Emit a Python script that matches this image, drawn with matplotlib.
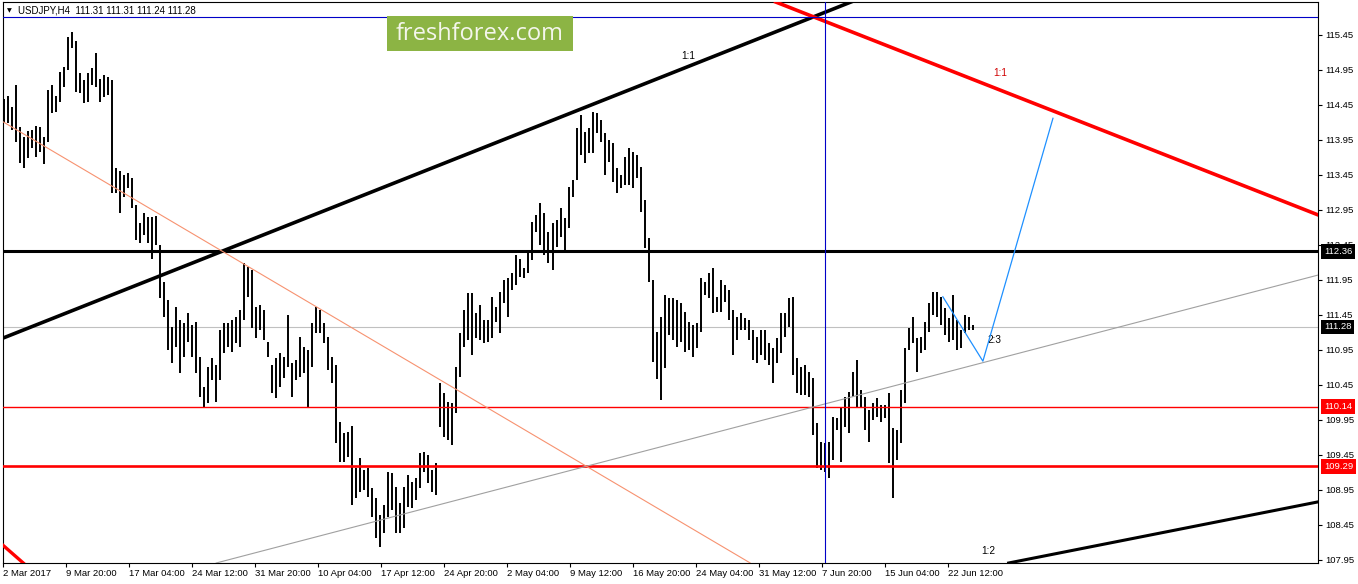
import numpy as np
import matplotlib.pyplot as plt
from matplotlib.patches import Rectangle

plt.rcParams['font.family'] = ['Liberation Sans', 'DejaVu Sans']

# USDJPY H4 - bar highs / lows (one entry = two 4h candles)
highs = [
    114.54, 114.58, 114.42, 114.74, 114.14, 113.99, 114.08, 114.09, 114.15, 114.14,
    113.99, 114.66, 114.74, 114.58, 114.92, 114.99, 115.42, 115.49, 115.36, 114.91,
    114.81, 114.91, 114.98, 115.19, 114.82, 114.88, 114.85, 114.81, 113.55, 113.51,
    113.45, 113.48, 113.41, 113.02, 112.76, 112.91, 112.85, 112.85, 112.86, 112.45,
    111.92, 111.66, 111.28, 111.56, 111.38, 111.34, 111.48, 111.31, 111.35, 110.85,
    110.42, 110.71, 110.84, 110.74, 111.24, 111.34, 111.34, 111.38, 111.42, 111.52,
    112.19, 112.14, 112.09, 111.56, 111.59, 111.52, 111.06, 110.74, 110.84, 110.91,
    110.85, 111.45, 110.76, 110.81, 111.14, 110.99, 110.95, 111.34, 111.56, 111.52,
    111.34, 111.14, 110.85, 110.74, 109.92, 109.76, 109.78, 109.86, 109.26, 109.41,
    109.24, 109.26, 108.98, 108.84, 108.59, 108.74, 109.21, 109.19, 108.99, 108.76,
    108.99, 109.16, 109.06, 109.12, 109.48, 109.49, 109.45, 109.24, 109.34, 110.48,
    110.34, 110.21, 110.19, 110.71, 111.19, 111.52, 111.76, 111.76, 111.48, 111.59,
    111.38, 111.38, 111.71, 111.56, 111.78, 111.95, 111.98, 112.05, 112.31, 112.25,
    112.12, 112.35, 112.78, 112.88, 113.05, 112.91, 112.64, 112.76, 112.81, 112.98,
    112.84, 113.28, 113.38, 114.12, 114.31, 114.06, 114.12, 114.35, 114.34, 114.24,
    114.05, 113.95, 113.91, 113.55, 113.45, 113.71, 113.84, 113.78, 113.74, 113.56,
    113.09, 112.55, 111.95, 111.21, 111.42, 111.74, 111.69, 111.69, 111.66, 111.62,
    111.49, 111.35, 111.31, 111.34, 111.98, 111.92, 112.05, 112.12, 111.71, 111.95,
    111.88, 111.81, 111.52, 111.42, 111.48, 111.41, 111.38, 111.24, 111.14, 111.24,
    111.24, 111.05, 110.98, 111.12, 111.48, 111.48, 111.69, 111.71, 110.84, 110.71,
    110.74, 110.64, 110.55, 109.91, 109.64, 109.62, 109.64, 109.99, 109.98, 110.14,
    110.28, 110.35, 110.64, 110.81, 110.38, 110.28, 110.09, 110.19, 110.26, 110.16,
    110.16, 110.34, 109.84, 109.81, 110.38, 110.98, 111.26, 111.42, 111.12, 111.14,
    111.35, 111.62, 111.78, 111.78, 111.71, 111.55, 111.41, 111.74, 111.38, 111.24,
    111.45, 111.42, 111.31,
]
lows = [
    114.19, 114.19, 114.09, 113.92, 113.62, 113.55, 113.69, 113.84, 113.71, 113.78,
    113.61, 113.92, 114.34, 114.35, 114.49, 114.71, 114.95, 115.26, 114.64, 114.62,
    114.48, 114.49, 114.74, 114.71, 114.49, 114.56, 114.59, 113.19, 113.19, 112.91,
    113.14, 113.26, 112.98, 112.52, 112.48, 112.59, 112.48, 112.25, 112.45, 111.69,
    111.42, 110.95, 110.76, 110.99, 110.62, 110.85, 111.06, 110.85, 110.62, 110.28,
    110.12, 110.19, 110.52, 110.21, 110.52, 110.91, 110.99, 110.92, 111.05, 110.99,
    111.38, 111.71, 111.26, 111.12, 111.24, 111.09, 110.85, 110.34, 110.26, 110.42,
    110.55, 110.71, 110.28, 110.52, 110.56, 110.62, 110.12, 110.71, 111.19, 111.19,
    111.05, 110.66, 110.48, 109.62, 109.35, 109.35, 109.42, 108.74, 108.84, 108.92,
    108.95, 108.85, 108.56, 108.26, 108.14, 108.34, 108.56, 108.66, 108.34, 108.34,
    108.41, 108.71, 108.69, 108.81, 108.98, 109.21, 109.05, 108.92, 108.88, 109.85,
    109.71, 109.66, 109.59, 110.05, 110.56, 110.99, 111.09, 110.88, 111.12, 111.09,
    111.05, 111.06, 111.12, 111.35, 111.19, 111.62, 111.42, 111.81, 111.88, 111.99,
    111.98, 112.05, 112.24, 112.64, 112.45, 112.31, 112.19, 112.09, 112.42, 112.56,
    112.38, 112.69, 113.14, 113.38, 113.74, 113.62, 113.76, 113.76, 114.05, 113.92,
    113.45, 113.64, 113.35, 113.19, 113.26, 113.31, 113.31, 113.26, 113.41, 112.92,
    112.41, 111.92, 110.78, 110.54, 110.24, 110.69, 111.16, 111.09, 110.99, 111.06,
    110.92, 110.95, 110.85, 110.98, 111.21, 111.74, 111.69, 111.48, 111.49, 111.49,
    111.64, 111.38, 110.88, 111.09, 111.24, 111.24, 111.09, 110.81, 110.76, 110.88,
    110.81, 110.74, 110.48, 110.76, 110.91, 111.14, 111.28, 110.59, 110.34, 110.31,
    110.31, 110.28, 109.74, 109.26, 109.24, 109.21, 109.12, 109.38, 109.81, 109.35,
    109.85, 109.76, 110.28, 110.14, 110.12, 109.81, 109.64, 109.95, 109.99, 109.92,
    109.98, 109.34, 108.84, 109.38, 109.62, 110.19, 110.95, 111.05, 110.64, 110.91,
    110.95, 111.21, 111.45, 111.42, 111.31, 111.16, 111.06, 111.09, 110.95, 110.98,
    111.19, 111.24, 111.24,
]
last_ohlc = [111.31, 111.31, 111.24, 111.28]

date_labels = ['2 Mar 2017', '9 Mar 20:00', '17 Mar 04:00', '24 Mar 12:00',
               '31 Mar 20:00', '10 Apr 04:00', '17 Apr 12:00', '24 Apr 20:00',
               '2 May 04:00', '9 May 12:00', '16 May 20:00', '24 May 04:00',
               '31 May 12:00', '7 Jun 20:00', '15 Jun 04:00', '22 Jun 12:00']
price_ticks = [107.95, 108.45, 108.95, 109.45, 109.95, 110.45, 110.95, 111.45,
               111.95, 112.45, 112.95, 113.45, 113.95, 114.45, 114.95, 115.45]

# horizontal levels
resistance = 112.36
last_price = 111.28
support_1 = 110.14
support_2 = 109.29

# trend lines: (bar, price) anchor pairs
channel_top = [(-0.25, 111.12), (211.5, 115.92)]
red_fall = [(192.8, 115.92), (328.2, 112.88)]
red_corner = [(-0.25, 108.16), (4.75, 107.91)]
channel_low = [(251.2, 107.91), (328.2, 108.78)]
gray_rise = [(53.2, 107.91), (328.2, 112.02)]
salmon_fall = [(-0.25, 114.21), (186.3, 107.91)]
forecast_x = [234.5, 244.5, 262.0]
forecast_y = [111.71, 110.79, 114.26]
cross_bar = 205.0
cross_price = 115.71

fig = plt.figure(figsize=(13.58, 5.84), dpi=100)
ax = fig.add_axes([3 / 1358, 21 / 584, 1315 / 1358, 561 / 584])
ax.set_xlim(-0.25, 328.2)
ax.set_ylim(107.907, 115.921)

x = np.arange(len(highs))
ax.vlines(x, lows, highs, color='black', lw=1.4, zorder=2)

# levels
ax.axhline(resistance, color='black', lw=2.2, zorder=3)
ax.axhline(last_price, color='#C0C0C0', lw=0.8, zorder=1)
ax.axhline(support_1, color='#FF0000', lw=1.0, zorder=3)
ax.axhline(support_2, color='#FF0000', lw=1.9, zorder=3)

# trend lines
ax.axline(*channel_top, color='black', lw=2.6, zorder=3)
ax.axline(*red_fall, color='#FF0000', lw=2.6, zorder=3)
ax.axline(*red_corner, color='#FF0000', lw=2.4, zorder=3)
ax.axline(*channel_low, color='black', lw=2.2, zorder=3)
ax.axline(*gray_rise, color='#A0A0A0', lw=0.8, zorder=3)
ax.axline(*salmon_fall, color='#F79270', lw=0.8, zorder=3)
ax.plot(forecast_x, forecast_y, color='#1E90FF', lw=0.9, zorder=4)

# crosshair
ax.axvline(cross_bar, color='#0000C8', lw=0.8, zorder=3)
ax.axhline(cross_price, color='#0000C8', lw=0.8, zorder=3)

# ratio labels
ax.text(170.8, 115.15, '1:1', ha='center', va='center', fontsize=7.2, color='black')
ax.text(248.8, 114.91, '1:1', ha='center', va='center', fontsize=7.2, color='#D00000')
ax.text(247.5, 111.09, '2:3', ha='center', va='center', fontsize=7.2, color='black')
ax.text(245.8, 108.08, '1:2', ha='center', va='center', fontsize=7.2, color='black')

# axes styling
for sp in ax.spines.values():
    sp.set_color('black')
    sp.set_linewidth(0.8)
ax.yaxis.tick_right()
ax.set_yticks(price_ticks)
ax.set_yticklabels([f'{p:.2f}' for p in price_ticks])
ax.tick_params(axis='y', direction='out', length=3, width=0.8, pad=2.5, labelsize=6.8)

tick_step = 15.73
ax.set_xticks(-0.25 + tick_step * np.arange(len(date_labels)))
ax.set_xticklabels(date_labels, ha='left')
ax.tick_params(axis='x', direction='out', length=3, width=0.8, pad=1.5, labelsize=6.8)

# price tags on the right scale
yt = ax.get_yaxis_transform()
for price, fc in [(resistance, 'black'), (last_price, 'black'),
                  (support_1, '#FF0000'), (support_2, '#FF0000')]:
    ax.text(1.0046, price, f'{price:.2f}', transform=yt, ha='left', va='center',
            color='white', fontsize=6.8, clip_on=False, zorder=6,
            bbox=dict(boxstyle='square,pad=0.3', fc=fc, ec='none'))

# header
fig.text(7 / 1358, 1 - 10.5 / 584, '\u25bc', fontsize=4.5, va='center',
         family='DejaVu Sans')
fig.text(18 / 1358, 1 - 10.5 / 584,
         'USDJPY,H4  ' + ' '.join(f'{v:.2f}' for v in last_ohlc),
         fontsize=7.0, va='center')

# watermark
fig.patches.append(Rectangle((387 / 1358, 1 - 51 / 584), 186 / 1358, 35 / 584,
                             transform=fig.transFigure, fc='#8CB444', ec='none'))
fig.text(480 / 1358, 1 - 33.5 / 584, 'freshforex.com', fontsize=17, color='#F4F6EC',
         ha='center', va='center', family='Open Sans')

fig.savefig('out.png', dpi=100)
